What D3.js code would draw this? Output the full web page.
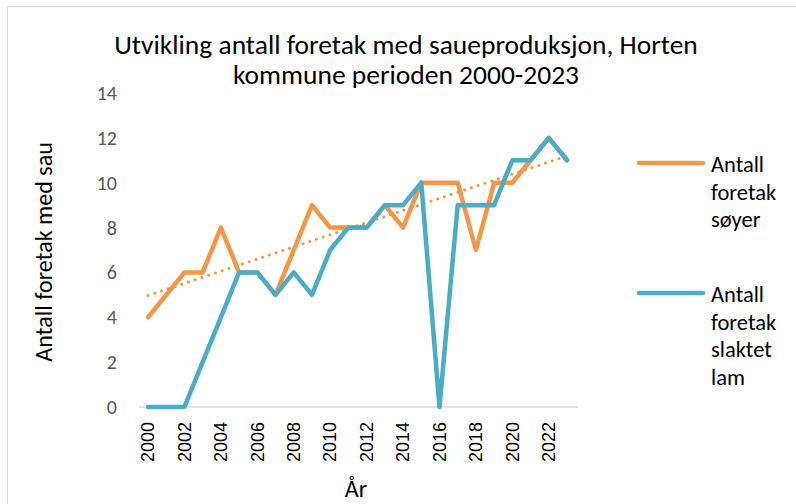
<!DOCTYPE html>
<meta charset="utf-8">
<script src="https://cdn.jsdelivr.net/npm/d3@7"></script>
<style>
  body { margin: 0; background: #fff; }
</style>
<div id="chart"></div>
<script>
  // data
  var years = d3.range(2000, 2024);
  var soyer = [4, 5, 6, 6, 8, 6, 6, 5, 7, 9, 8, 8, 8, 9, 8, 10, 10, 10, 7, 10, 10, 11, 12, 11];
  var lam   = [0, 0, 0, 2, 4, 6, 6, 5, 6, 5, 7, 8, 8, 9, 9, 10, 0, 9, 9, 9, 11, 11, 12, 11];
  var yTicks = [0, 2, 4, 6, 8, 10, 12, 14];
  var xTicks = d3.range(2000, 2023, 2);
  var seriesNames = [["Antall", "foretak", "søyer"], ["Antall", "foretak", "slaktet", "lam"]];

  var width = 796, height = 504;
  var orange = "#F79646", blue = "#4BACC6";
  var font = "Carlito, Lato, 'Open Sans', sans-serif";

  var svg = d3.select("#chart").append("svg")
    .attr("width", width)
    .attr("height", height);

  // chart area border (cropped on right/bottom)
  svg.append("rect")
    .attr("x", 7.5).attr("y", 6.5)
    .attr("width", 900).attr("height", 900)
    .attr("fill", "none")
    .attr("stroke", "#d9d9d9");

  var x = d3.scaleLinear().domain([2000, 2023]).range([148, 567]);
  var y = d3.scaleLinear().domain([0, 14]).range([407, 93]);

  // title
  var title = svg.append("text")
    .attr("text-anchor", "middle")
    .style("font-family", font)
    .style("font-size", "27.5px")
    .attr("fill", "#000");
  title.append("tspan").attr("x", 406).attr("y", 54).text("Utvikling antall foretak med saueproduksjon, Horten");
  title.append("tspan").attr("x", 406).attr("y", 84).text("kommune perioden 2000-2023");

  // baseline
  svg.append("line")
    .attr("x1", 139).attr("x2", 578)
    .attr("y1", y(0)).attr("y2", y(0))
    .attr("stroke", "#d9d9d9")
    .attr("stroke-width", 1.3);

  // y tick labels
  svg.append("g").selectAll("text")
    .data(yTicks)
    .enter().append("text")
      .attr("x", 117)
      .attr("y", function(d) { return y(d); })
      .attr("dy", "0.35em")
      .attr("text-anchor", "end")
      .style("font-family", font)
      .style("font-size", "20px")
      .attr("fill", "#595959")
      .text(function(d) { return d; });

  // x tick labels
  svg.append("g").selectAll("text")
    .data(xTicks)
    .enter().append("text")
      .attr("transform", function(d) { return "translate(" + x(d) + ",422) rotate(-90)"; })
      .attr("dy", "0.35em")
      .attr("text-anchor", "end")
      .style("font-family", "'Liberation Sans', Arial, sans-serif")
      .style("font-size", "18px")
      .attr("fill", "#000")
      .text(function(d) { return d; });

  // axis titles
  svg.append("text")
    .attr("transform", "translate(52,252) rotate(-90)")
    .attr("text-anchor", "middle")
    .style("font-family", font)
    .style("font-size", "24px")
    .text("Antall foretak med sau");

  svg.append("text")
    .attr("x", 356).attr("y", 497)
    .attr("text-anchor", "middle")
    .style("font-family", font)
    .style("font-size", "24px")
    .text("År");

  // lines
  var line = d3.line()
    .x(function(d, i) { return x(years[i]); })
    .y(function(d) { return y(d); });

  svg.append("path")
    .datum(soyer)
    .attr("d", line)
    .attr("fill", "none")
    .attr("stroke", orange)
    .attr("stroke-width", 4.5)
    .attr("stroke-linejoin", "round")
    .attr("stroke-linecap", "round");

  // linear trend for søyer
  var mx = d3.mean(years), my = d3.mean(soyer);
  var slope = d3.sum(years, function(t, i) { return (t - mx) * (soyer[i] - my); }) /
              d3.sum(years, function(t) { return (t - mx) * (t - mx); });
  var trend = function(t) { return my + slope * (t - mx); };
  svg.append("line")
    .attr("x1", x(2000)).attr("y1", y(trend(2000)))
    .attr("x2", x(2023)).attr("y2", y(trend(2023)))
    .attr("stroke", orange)
    .attr("stroke-width", 3)
    .attr("stroke-linecap", "round")
    .attr("stroke-dasharray", "0.1 7");

  svg.append("path")
    .datum(lam)
    .attr("d", line)
    .attr("fill", "none")
    .attr("stroke", blue)
    .attr("stroke-width", 4.5)
    .attr("stroke-linejoin", "round")
    .attr("stroke-linecap", "round");

  // legend
  var legendY = [163, 293];
  var colors = [orange, blue];
  seriesNames.forEach(function(names, k) {
    svg.append("line")
      .attr("x1", 639).attr("x2", 703)
      .attr("y1", legendY[k]).attr("y2", legendY[k])
      .attr("stroke", colors[k])
      .attr("stroke-width", 4.5)
      .attr("stroke-linecap", "round");
    var t = svg.append("text")
      .style("font-family", font)
      .style("font-size", "22.5px")
      .attr("fill", "#000");
    names.forEach(function(n, j) {
      t.append("tspan").attr("x", 711).attr("y", legendY[k] + 9 + j * 27.5).text(n);
    });
  });
</script>
